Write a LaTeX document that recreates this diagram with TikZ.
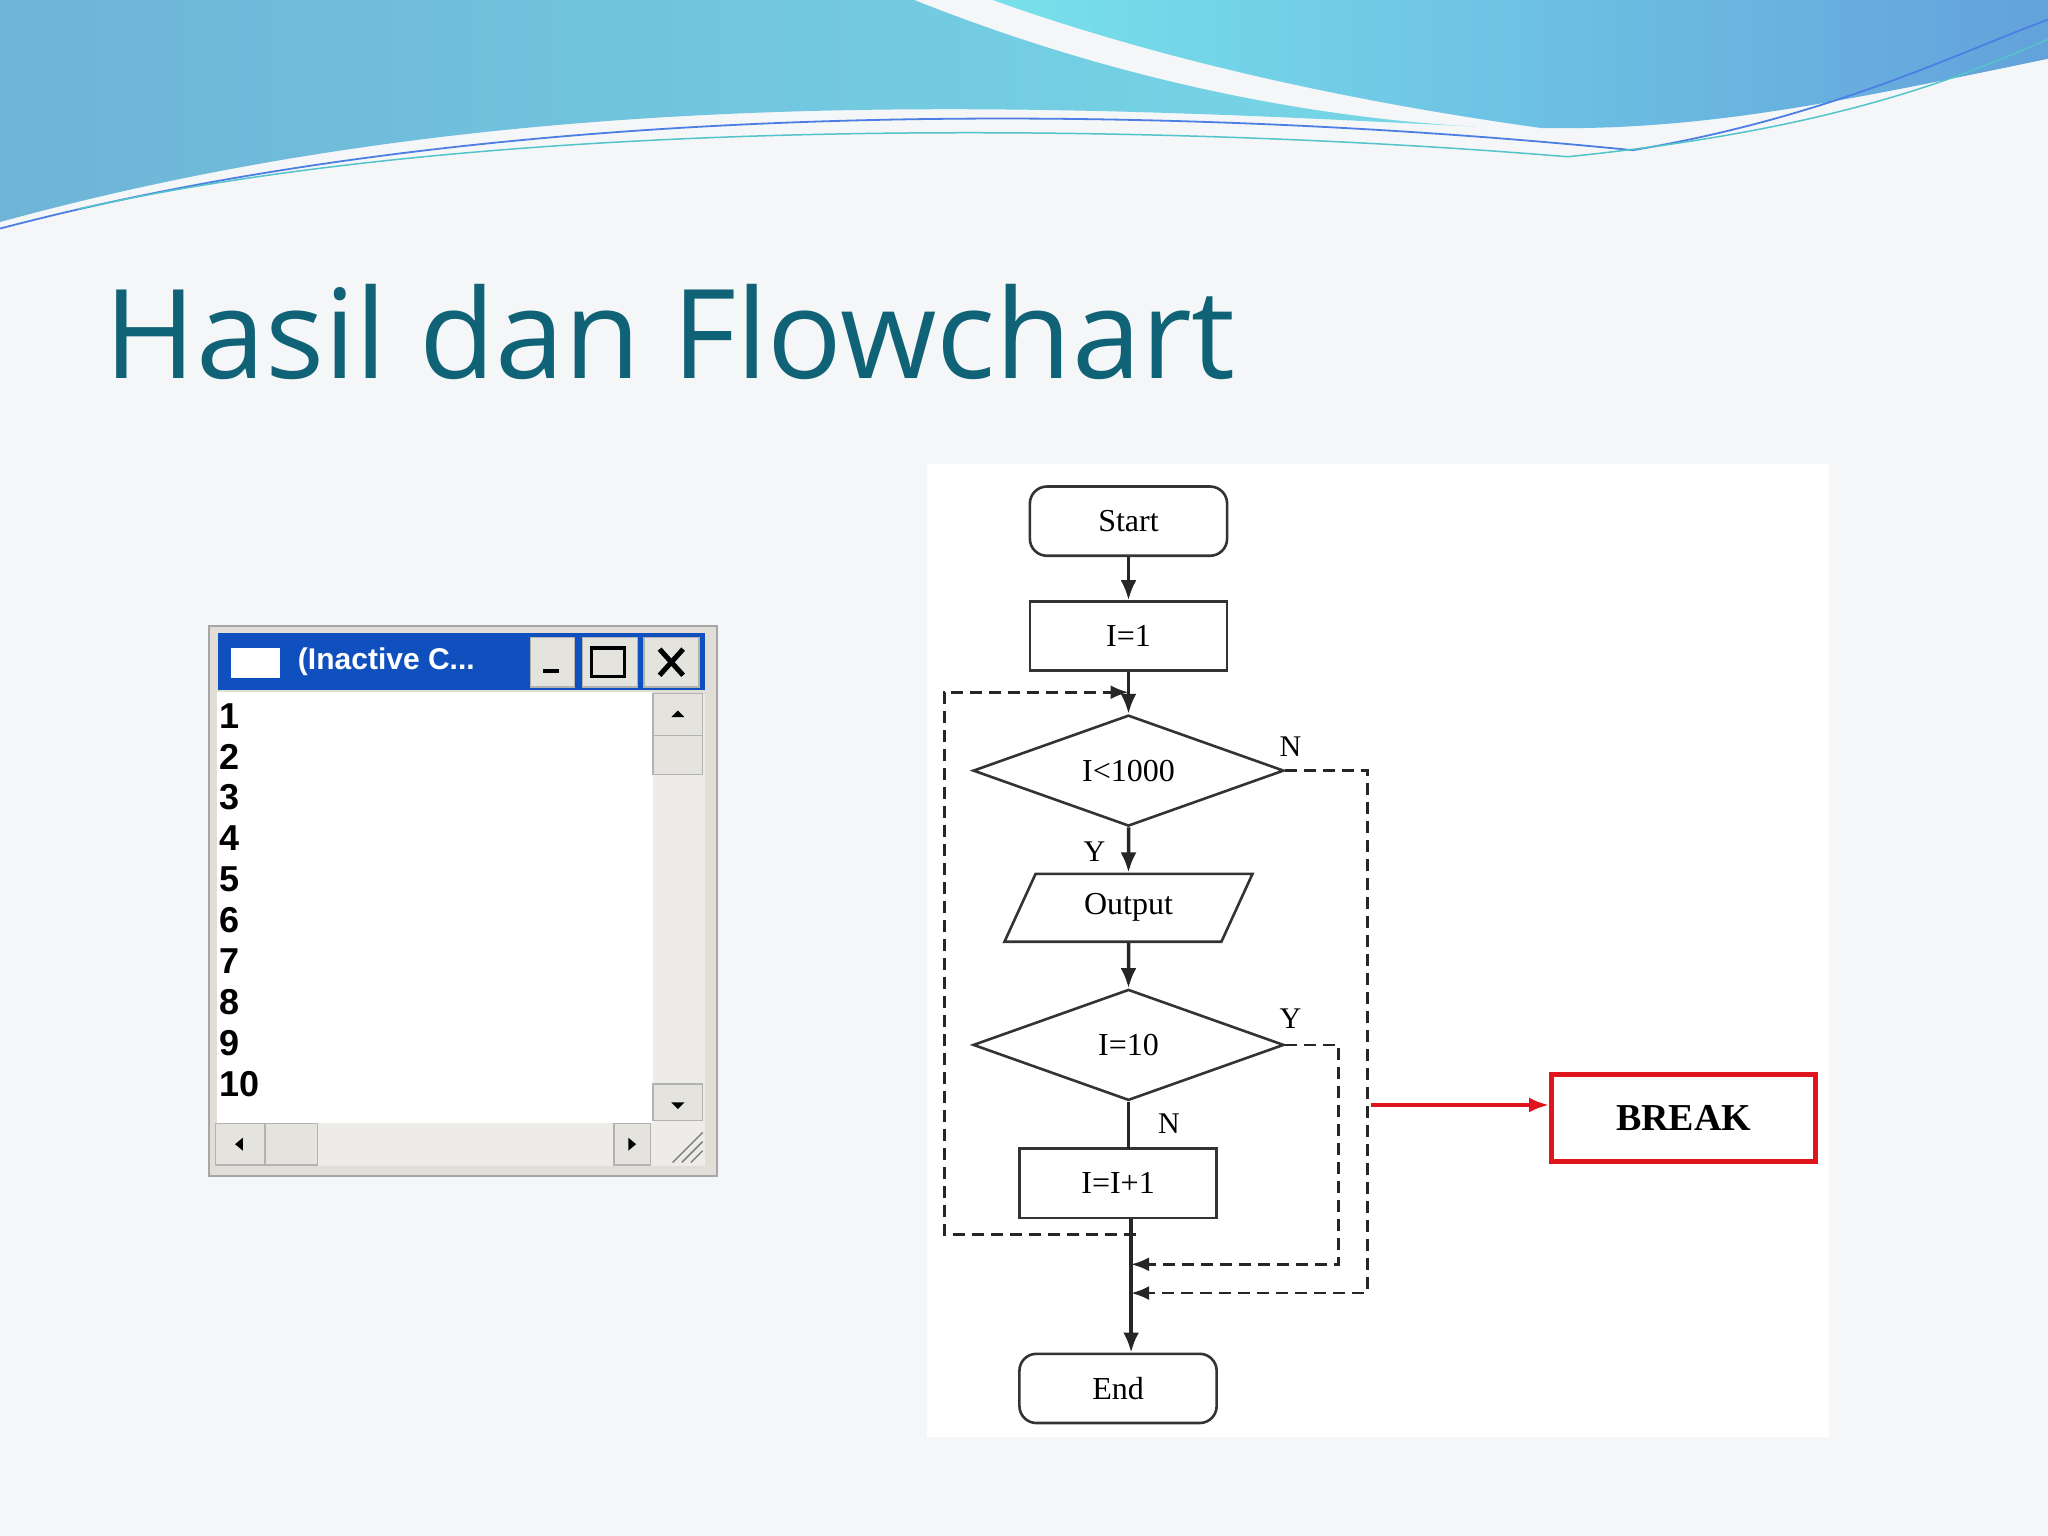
\documentclass[tikz,border=0pt]{standalone}
\usepackage{fontspec}
\setmainfont{Liberation Serif}
\newfontfamily\titlefont{Open Sans}
\newfontfamily\winfont{Liberation Sans}
\usetikzlibrary{shapes.geometric,arrows.meta}
\definecolor{bg}{RGB}{244,246,248}
\definecolor{titlecol}{RGB}{16,98,118}
\definecolor{wavedark}{RGB}{110,180,215}
\definecolor{wavelight}{RGB}{120,225,235}
\definecolor{winblue}{RGB}{16,80,190}
\definecolor{wingray}{RGB}{212,208,200}
\definecolor{breakred}{RGB}{225,20,30}
\newlength{\xu}\setlength{\xu}{1.306pt}
\newlength{\yu}\setlength{\yu}{1.306pt}
\tikzset{
  fc/.style={draw=black!80,line width=2.6pt,fill=white,font=\fontsize{32}{34}\selectfont,inner sep=0pt},
  term/.style={fc,rounded corners=17pt,minimum width=151\xu,minimum height=53\yu},
  proc/.style={fc,rectangle,minimum width=151\xu,minimum height=53\yu},
  dec/.style={fc,diamond,aspect=2.8,minimum width=238\xu,minimum height=85\yu},
  io/.style={fc,trapezium,trapezium left angle=62,trapezium right angle=118,minimum width=190\xu,minimum height=52\yu,trapezium stretches=true},
  flow/.style={line width=3.5pt,black!85,-{Latex[length=20pt,width=16pt]}},
  dflow/.style={line width=2.6pt,black!85,dash pattern=on 12pt off 7pt},
  lbl/.style={font=\fontsize{30}{32}\selectfont,inner sep=1pt},
  num/.style={font=\winfont\bfseries\fontsize{36}{38}\selectfont,anchor=west,inner sep=0pt},
  btn/.style={draw=gray!60,fill=wingray!60,line width=1.5pt},
}
\begin{document}
\begin{tikzpicture}[x=1.306pt,y=-1.306pt]
\useasboundingbox (0,0) rectangle (1568,1176);
\fill[bg] (0,0) rectangle (1568,1176);
% waves
\shade[left color=wavedark,right color=wavelight!80!wavedark]
  (0,0) -- (700,0) .. controls (850,60) and (1000,90) .. (1130,97)
  .. controls (800,80) and (400,60) .. (0,170) -- cycle;
\shade[left color=wavelight,right color=wavedark!90!blue]
  (760,0) -- (1568,0) -- (1568,45) .. controls (1400,80) and (1300,100) .. (1180,98)
  .. controls (1050,80) and (900,50) .. (760,0) -- cycle;
\draw[wavedark!70!blue,line width=1.8pt] (0,175) .. controls (400,70) and (900,80) .. (1250,115) .. controls (1400,90) and (1500,40) .. (1568,15);
\draw[wavelight!70!teal,line width=1.5pt] (60,160) .. controls (400,85) and (900,95) .. (1200,120) .. controls (1400,100) and (1500,60) .. (1568,30);
% title
\node[anchor=base west,inner sep=0pt,text=titlecol,font=\titlefont\fontsize{124}{136}\selectfont] (title) at (80,290) {Hasil dan Flowchart};
% window
\fill[wingray!70] (160,479) rectangle (549,900);
\draw[gray!70,line width=2pt] (160,479) rectangle (549,900);
\fill[white] (166,530) rectangle (500,860);
\fill[winblue] (167,485) rectangle (540,528);
\fill[white] (177,496) rectangle (214,519);
\node[anchor=west,inner sep=0pt,text=white,font=\winfont\bfseries\fontsize{30}{32}\selectfont] (wtitle) at (228,507) {(Inactive C...};
\draw[btn] (406,488) rectangle (440,526);
\draw[black,line width=4pt] (416,514) -- (428,514);
\draw[btn] (446,488) rectangle (488,526);
\draw[black,line width=3.5pt] (453,496) rectangle (478,518);
\draw[btn] (493,488) rectangle (535,526);
\draw[black,line width=5pt] (505,497) -- (523,517) (523,497) -- (505,517);
\fill[wingray!40] (500,531) rectangle (540,860);
\draw[btn] (500,531) rectangle (538,563);
\fill[black] (514,549) -- (524,549) -- (519,544) -- cycle;
\draw[btn] (500,563) rectangle (538,593);
\draw[btn] (500,830) rectangle (538,858);
\fill[black] (514,844) -- (524,844) -- (519,849) -- cycle;
\fill[wingray!40] (165,860) rectangle (540,893);
\draw[btn] (165,860) rectangle (203,892);
\fill[black] (186,871) -- (186,881) -- (180,876) -- cycle;
\draw[btn] (203,860) rectangle (243,892);
\draw[btn] (470,860) rectangle (498,892);
\fill[black] (481,871) -- (481,881) -- (487,876) -- cycle;
\draw[gray,line width=1.5pt] (515,890) -- (538,867) (522,890) -- (538,874) (529,890) -- (538,881);
\foreach \n [count=\i from 0] in {1,...,10} {
  \node[num] (n\n) at (168,{548+\i*31.3}) {\n};
}
% flowchart panel
\fill[white] (710,355) rectangle (1400,1100);
\node[term] (start) at (864,399) {Start};
\node[proc] (init) at (864,487) {I=1};
\node[dec] (d1) at (864,590) {I<1000};
\node[io] (out) at (864,695) {Output};
\node[dec] (d2) at (864,800) {I=10};
\node[proc] (inc) at (856,906) {I=I+1};
\node[term] (end) at (856,1063) {End};
\coordinate (m1) at (864,530);
\draw[flow] (start) -- (init);
\draw[flow] (init) -- (d1);
\draw[flow] (d1) -- (out);
\draw[flow] (out) -- (d2.north);
\draw[line width=3.5pt,black!85] (d2.south) -- (864,880);
\coordinate (j0) at (866,933);
\coordinate (j1) at (866,968);
\coordinate (j2) at (866,990);
\draw[flow] (j0) -- (end.north -| j0);
% dashed loop
\coordinate (lb) at (723,945);
\draw[dflow,-{Latex[length=18pt,width=14pt]}] (870,945) -- (lb) -- (723,530) -- (m1);
\draw[dflow,-{Latex[length=18pt,width=14pt]}] (d1.east) -- (1047,590) -- (1047,990) -- (j2);
\draw[dflow,-{Latex[length=18pt,width=14pt]}] (d2.east) -- (1025,800) -- (1025,968) -- (j1);
\node[lbl] (ln1) at (988,572) {N};
\node[lbl] (ly1) at (838,652) {Y};
\node[lbl] (ly2) at (988,780) {Y};
\node[lbl] (ln2) at (895,860) {N};
% break
\node[draw=breakred,line width=5pt,minimum width=202\xu,minimum height=67\yu,font=\bfseries\fontsize{38}{40}\selectfont,inner sep=0pt] (brk) at (1289,856) {BREAK};
\coordinate (bs) at (1050,846);
\draw[breakred,line width=4pt,-{Latex[length=20pt,width=15pt]}] (bs) -- (bs -| brk.west);
\end{tikzpicture}
\end{document}
